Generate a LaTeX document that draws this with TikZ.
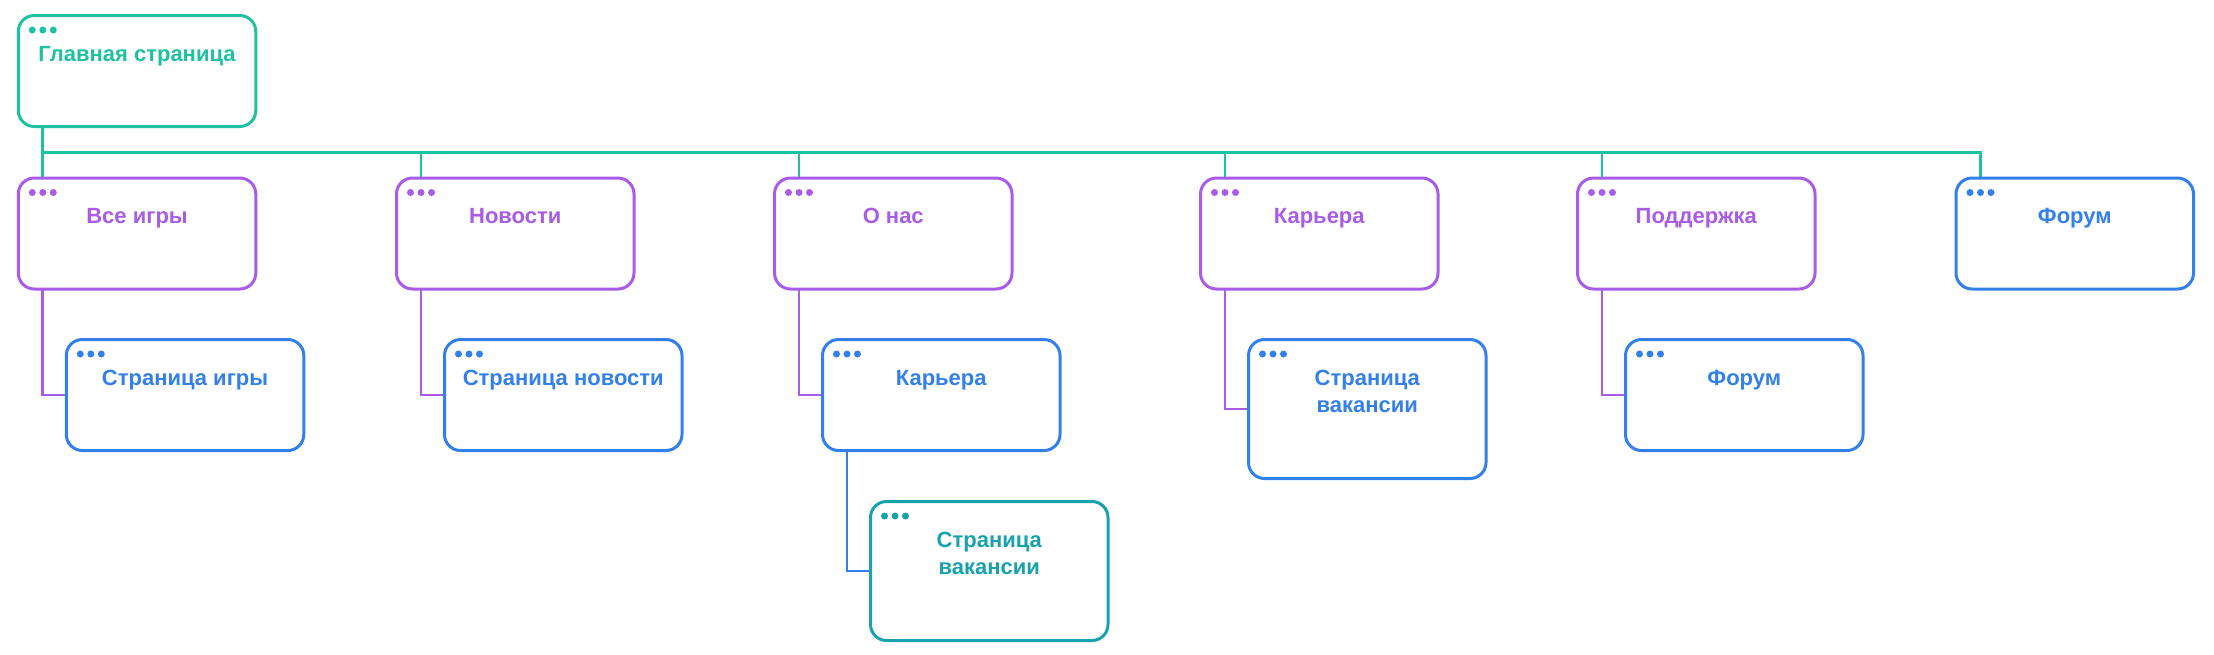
\documentclass[tikz,border=0pt]{standalone}
\usepackage{fontspec}
\setmainfont{Liberation Sans}
\usetikzlibrary{backgrounds}
\definecolor{cTeal}{HTML}{1EC2A0}
\definecolor{cPurple}{HTML}{A95CE8}
\definecolor{cBlue}{HTML}{3380EA}
\definecolor{cDark}{HTML}{17A2AC}
\tikzset{
  pagebox/.style={draw=#1, line width=3pt, rounded corners=16pt, minimum width=237.5pt,
    inner sep=0pt, outer sep=0pt, anchor=north west, fill=white},
  boxlabel/.style={text=#1, font=\bfseries\fontsize{22}{26}\selectfont, anchor=base, inner sep=0pt},
  wire/.style={draw=#1, line width=2.8pt}
}
\newcommand\mkbox[6]{%
  \node[pagebox=#2, minimum height=#5pt] (#1) at (#3,#4) {};
  \node[boxlabel=#2] (#1-t) at ([yshift=-45.5pt]#1.north) {#6};
  \foreach \dx in {14,24.5,35} {\fill[#2] ([xshift=\dx pt, yshift=-14.5pt]#1.north west) circle (3.5pt);}
}
\newcommand\mkboxtwo[7]{%
  \node[pagebox=#2, minimum height=#5pt] (#1) at (#3,#4) {};
  \node[boxlabel=#2] (#1-t) at ([yshift=-45.5pt]#1.north) {#6};
  \node[boxlabel=#2] (#1-u) at ([yshift=-73pt]#1.north) {#7};
  \foreach \dx in {14,24.5,35} {\fill[#2] ([xshift=\dx pt, yshift=-14.5pt]#1.north west) circle (3.5pt);}
}
\begin{document}
\begin{tikzpicture}[x=1pt,y=-1pt]
\useasboundingbox (0,0) rectangle (2214,654);
% row 1
\mkbox{main}{cTeal}{18.3}{15.5}{111}{Главная страница}
% row 2
\mkbox{all}{cPurple}{18.3}{178}{111}{Все игры}
\mkbox{news}{cPurple}{396.5}{178}{111}{Новости}
\mkbox{about}{cPurple}{774.5}{178}{111}{О нас}
\mkbox{career}{cPurple}{1200.5}{178}{111}{Карьера}
\mkbox{support}{cPurple}{1577.5}{178}{111}{Поддержка}
\mkbox{forum}{cBlue}{1956}{178}{111}{Форум}
% row 3
\mkbox{game}{cBlue}{66.3}{339.5}{111}{Страница игры}
\mkbox{newspage}{cBlue}{444.5}{339.5}{111}{Страница новости}
\mkbox{career2}{cBlue}{822.5}{339.5}{111}{Карьера}
\mkboxtwo{vacancy}{cBlue}{1248.5}{339.5}{139}{Страница}{вакансии}
\mkbox{forum2}{cBlue}{1625.5}{339.5}{111}{Форум}
% row 4
\mkboxtwo{vacancy2}{cDark}{870.5}{501.5}{139}{Страница}{вакансии}
\begin{scope}[on background layer]
  \fill[white] (0,0) rectangle (2214,654);
  \coordinate (bus) at (42.8,152.5);
  \draw[wire=cTeal] ([xshift=24.5pt]main.south west) -- ([xshift=24.5pt]all.north west);
  \foreach \b in {news,about,career,support,forum}
    {\draw[wire=cTeal] (bus) -| ([xshift=24.5pt]\b.north west);}
  \draw[wire=cPurple] ([xshift=24.5pt]all.south west) |- (game.west);
  \draw[wire=cPurple] ([xshift=24.5pt]news.south west) |- (newspage.west);
  \draw[wire=cPurple] ([xshift=24.5pt]about.south west) |- (career2.west);
  \draw[wire=cPurple] ([xshift=24.5pt]career.south west) |- (vacancy.west);
  \draw[wire=cPurple] ([xshift=24.5pt]support.south west) |- (forum2.west);
  \draw[wire=cBlue] ([xshift=24.5pt]career2.south west) |- (vacancy2.west);
\end{scope}
\end{tikzpicture}
\end{document}
